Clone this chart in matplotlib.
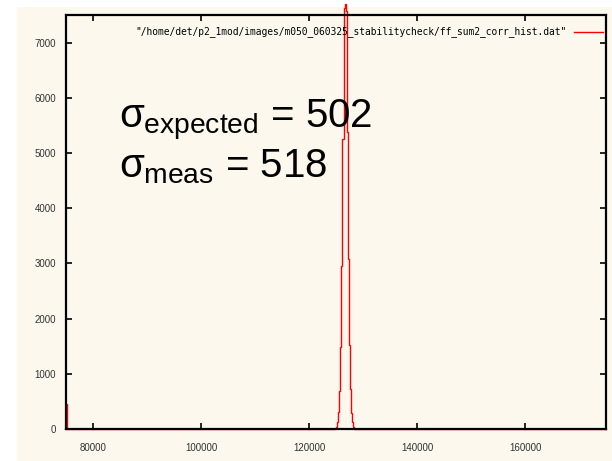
import matplotlib
matplotlib.use("Agg")
import matplotlib.pyplot as plt

# histogram of the corrected ff sum (step outline)
bin_edges = [75000, 75100,
             124600, 124800, 125000, 125200, 125400, 125600, 125800, 126000,
             126200, 126400, 126600, 126800, 127000, 127200, 127400, 127600,
             127800, 128000, 128200, 128400, 128600, 128800,
             175000]
counts = [460, 0,
          2, 12, 38, 125, 310, 690, 1480, 2950, 5250, 7620, 7700,
          7580, 5380, 3080, 1530, 720, 290, 118, 42, 9, 3,
          0]

x_ticks = [80000, 100000, 120000, 140000, 160000]
y_ticks = [0, 1000, 2000, 3000, 4000, 5000, 6000, 7000]
legend_label = '"/home/det/p2_1mod/images/m050_060325_stabilitycheck/ff_sum2_corr_hist.dat"'
sigma_expected = 502
sigma_meas = 518

cream = "#fdf8ee"
plt.rcParams["mathtext.fontset"] = "custom"
plt.rcParams["mathtext.rm"] = "Liberation Sans"
plt.rcParams["mathtext.it"] = "Liberation Sans"

fig = plt.figure(figsize=(6.12, 4.61), dpi=100)
fig.patch.set_facecolor("white")
# cream panel behind the plot
fig.patches.append(plt.Rectangle((17 / 612, 0), 1, 1 - 7 / 461,
                                 transform=fig.transFigure,
                                 facecolor=cream, edgecolor="none", zorder=-5))

ax = fig.add_axes([66 / 612, 1 - 429 / 461, 540 / 612, 414 / 461])
ax.set_facecolor(cream)

# peak runs a little past the top border, so no clipping here
ax.stairs(counts, bin_edges, color="red", lw=1.0, baseline=0, zorder=2,
          clip_on=False)

ax.set_xlim(75000, 175000)
ax.set_ylim(0, 7500)
ax.set_xticks(x_ticks)
ax.set_yticks(y_ticks)
ax.tick_params(direction="in", length=4, width=1.2, top=True, right=True,
               labelsize=7, labelcolor="#333333", pad=7)
ax.tick_params(axis="x", pad=10)
for lab in ax.get_xticklabels() + ax.get_yticklabels():
    lab.set_family("Liberation Sans")
for sp in ax.spines.values():
    sp.set_linewidth(1.6)
    sp.set_color("black")
    sp.set_zorder(3)

# gnuplot-style key in the top right corner
ax.text(567 / 612, 1 - 32 / 461, legend_label, transform=fig.transFigure,
        ha="right", va="center", family="DejaVu Sans Mono", fontsize=6.9,
        color="black")
ax.plot([574 / 612, 603 / 612], [1 - 32 / 461, 1 - 32 / 461],
        transform=fig.transFigure, color="red", lw=1.0, clip_on=False)

ax.text(119 / 612, 1 - 127 / 461,
        r"$\sigma_{\mathrm{expected}}$" + f" = {sigma_expected}",
        transform=fig.transFigure, fontsize=29, family="Liberation Sans",
        ha="left", va="baseline")
ax.text(119 / 612, 1 - 177 / 461,
        r"$\sigma_{\mathrm{meas}}$" + f" = {sigma_meas}",
        transform=fig.transFigure, fontsize=29, family="Liberation Sans",
        ha="left", va="baseline")

fig.savefig("out.png", dpi=100, facecolor=fig.get_facecolor())
